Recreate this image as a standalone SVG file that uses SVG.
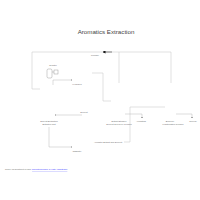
<svg xmlns="http://www.w3.org/2000/svg" width="200" height="200" viewBox="0 0 200 200">
<defs>
<marker id="ah" viewBox="0 0 6 6" refX="5" refY="3" markerWidth="3" markerHeight="3" orient="auto"><path d="M0,0 L6,3 L0,6 Z" fill="#333"/></marker>
<marker id="ahb" viewBox="0 0 6 6" refX="5" refY="3" markerWidth="5" markerHeight="5" orient="auto"><path d="M0,0 L6,3 L0,6 Z" fill="#111"/></marker>
<style>
.ln{fill:none;stroke:#cfcfcf;stroke-width:0.6}
.ar{fill:none;stroke:#aaa;stroke-width:0.4;marker-end:url(#ah)}
.lb{font-family:"Liberation Sans",Arial,sans-serif;font-size:2.2px;fill:#666;text-anchor:middle}
.tt{font-family:"Liberation Sans",Arial,sans-serif;font-size:6.2px;fill:#444;text-anchor:middle}
.eq{fill:#fff;stroke:#888;stroke-width:0.4}
</style>
</defs>
<rect width="200" height="200" fill="#fff"/>
<text class="tt" x="106" y="34">Aromatics Extraction</text>
<g id="connectors">
<polyline class="ln" points="119,83 119,52 32,52 32,89 40,89"/>
<polyline class="ln" points="119,52 171,52 171,83"/>
<path d="M112,52 L103,52" fill="none" stroke="#333" stroke-width="0.6" marker-end="url(#ahb)"/>
<polyline class="ln" points="92,73 103,73 103,101 111,101"/>
<path class="ar" d="M82,115 L55,115"/>
<polyline class="ln" points="130,142 130,107 165,107"/>
<line class="ln" x1="124" y1="142" x2="130" y2="142"/>
<polyline class="ar" points="125,114 142,114 142,118"/>
<polyline class="ar" points="176,114 192,114 192,118"/>
<polyline class="ar" points="49,127 49,147 72,147"/>
<polyline class="ar" points="53,85 53,80 72,80"/>
</g>
<g id="reactor">
<rect class="eq" x="47" y="69" width="5" height="9" rx="1.5"/>
<line x1="52" y1="72" x2="54" y2="72" stroke="#888" stroke-width="0.4"/>
<rect class="eq" x="54" y="70" width="4" height="4"/>
<text class="lb" x="53" y="66">Reactor</text>
</g>
<g id="furnace"><text class="lb" x="95" y="56">Furnace</text></g>
<g id="hydrogen"><text class="lb" x="77" y="85">Hydrogen</text></g>
<g id="solvent"><text class="lb" x="84" y="113">Solvent</text></g>
<g id="extractor"><text class="lb" x="49" y="122">Solvent Extraction</text><text class="lb" x="49" y="125">Extractor Unit</text></g>
<g id="raffinate"><text class="lb" x="77" y="152">Raffinate</text></g>
<g id="extract"><text class="lb" x="108" y="143">Aromatic Extract and Solvent</text></g>
<g id="stripper"><text class="lb" x="119" y="122">Extract Stripper</text><text class="lb" x="119" y="125">Solvent Recovery Column</text></g>
<g id="aromatics"><text class="lb" x="141" y="122">Aromatics</text></g>
<g id="fract"><text class="lb" x="170" y="122">Benzene</text><text class="lb" x="173" y="125">Fractionation Column</text></g>
<g id="product"><text class="lb" x="193" y="122">Toluene</text></g>
<text x="5" y="170" font-family="Liberation Sans,Arial,sans-serif" font-size="1.8" fill="#666">Source: US Department of Labor, <tspan fill="#33f" text-decoration="underline">Occupational Safety &amp; Health Administration</tspan></text>
</svg>
